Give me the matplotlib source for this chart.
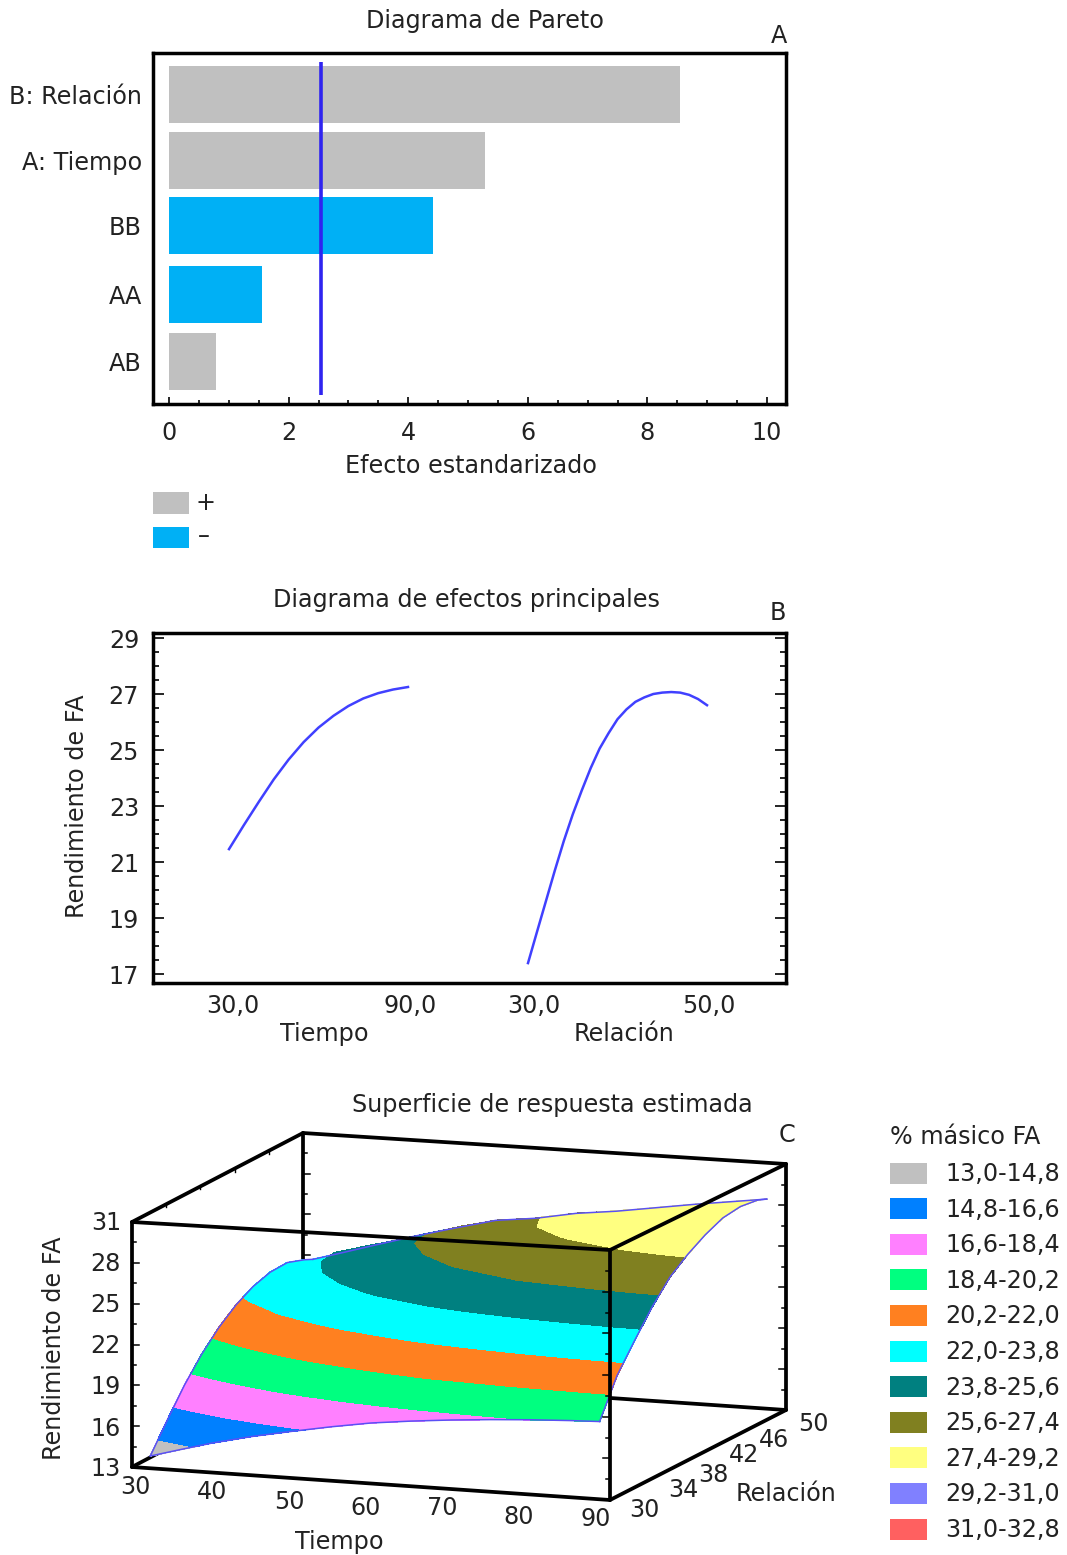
#!/usr/bin/env python3
"""
Pareto chart, main effects plot and estimated response surface for FA yield
"""

import matplotlib
matplotlib.use('Agg')
import matplotlib.pyplot as plt
from matplotlib.patches import Rectangle
import numpy as np

# Pareto data
pareto_labels = ['B: Relación', 'A: Tiempo', 'BB', 'AA', 'AB']
pareto_effects = [8.55, 5.28, 4.41, 1.56, 0.79]
pareto_signs = ['+', '+', '-', '-', '+']
pareto_limit = 2.54

# Main effects data
tiempo_x = [30, 35, 40, 45, 50, 55, 60, 65, 70, 75, 80, 85, 90]
tiempo_y = [21.46, 22.32, 23.15, 23.95, 24.66, 25.28, 25.8, 26.22, 26.57, 26.84, 27.03, 27.16, 27.25]
relacion_x = list(range(30, 51))
relacion_y = [17.39, 18.5, 19.6, 20.7, 21.75, 22.7, 23.55, 24.35, 25.05, 25.6, 26.1,
              26.45, 26.72, 26.88, 27.0, 27.05, 27.07, 27.05, 26.97, 26.82, 26.6]

# Response surface data, rows follow surf_relacion and columns surf_tiempo
surf_tiempo = [32.3, 36, 40, 45, 50, 55, 60, 65, 70, 75, 80, 85, 88.7]
surf_relacion = [30, 32, 34, 36, 38, 40, 42, 44, 46, 48, 49]
surf_z = [
    [13.9, 14.51, 15.15, 15.83, 16.4, 16.93, 17.4, 17.73, 18.0, 18.22, 18.4, 18.53, 18.6],
    [15.9, 16.58, 17.3, 18.06, 18.7, 19.32, 19.8, 20.25, 20.5, 20.84, 21.05, 21.21, 21.3],
    [17.8, 18.45, 19.15, 19.91, 20.55, 21.15, 21.7, 22.09, 22.45, 22.71, 22.95, 23.11, 23.2],
    [19.4, 20.04, 20.75, 21.51, 22.2, 22.82, 23.4, 23.8, 24.15, 24.47, 24.7, 24.9, 25.0],
    [20.7, 21.34, 22.05, 22.82, 23.55, 24.16, 24.75, 25.2, 25.65, 25.92, 26.2, 26.4, 26.5],
    [21.7, 22.31, 23.0, 23.75, 24.5, 25.09, 25.7, 26.14, 26.55, 26.89, 27.2, 27.39, 27.5],
    [22.4, 22.99, 23.65, 24.41, 25.15, 25.77, 26.4, 26.85, 27.3, 27.65, 28.0, 28.18, 28.3],
    [22.8, 23.38, 24.0, 24.81, 25.55, 26.22, 26.85, 27.34, 27.8, 28.2, 28.55, 28.78, 28.9],
    [22.85, 23.44, 24.1, 24.91, 25.65, 26.35, 27.0, 27.51, 27.95, 28.38, 28.7, 28.98, 29.1],
    [22.4, 23.02, 23.7, 24.56, 25.35, 26.07, 26.5, 27.0, 27.4, 27.85, 28.3, 28.7, 28.95],
    [22.1, 22.74, 23.45, 24.31, 25.1, 25.85, 26.2, 26.75, 27.1, 27.55, 28.0, 28.4, 28.7],
]
band_levels = [13.0, 14.8, 16.6, 18.4, 20.2, 22.0, 23.8, 25.6, 27.4, 29.2, 31.0, 32.8]
band_labels = ['13,0-14,8', '14,8-16,6', '16,6-18,4', '18,4-20,2', '20,2-22,0', '22,0-23,8',
               '23,8-25,6', '25,6-27,4', '27,4-29,2', '29,2-31,0', '31,0-32,8']
band_colors = ['#c0c0c0', '#0080ff', '#ff80ff', '#00ff80', '#ff8020', '#00ffff',
               '#008080', '#808020', '#ffff80', '#8080ff', '#ff6060']
box_t_ticks = [30, 40, 50, 60, 70, 80, 90]
box_r_ticks = [30, 34, 38, 42, 46, 50]
box_z_ticks = [13, 16, 19, 22, 25, 28, 31]

W, H = 1067, 1555
FS = 17.2
TXT = '#222222'
LINE = '#2f24f0'
CURVE = '#4040ff'
FRAME_LW = 2.5

plt.rcParams['font.family'] = 'DejaVu Sans'
plt.rcParams['font.size'] = FS
plt.rcParams['text.color'] = TXT
plt.rcParams['xtick.labelcolor'] = TXT
plt.rcParams['ytick.labelcolor'] = TXT


def axes_px(fig, x0, y0, x1, y1, **kw):
    # axes from pixel box, y measured from the top
    return fig.add_axes([x0 / W, 1 - y1 / H, (x1 - x0) / W, (y1 - y0) / H], **kw)


def project(t, r, z):
    # corners of the drawn box, picture pixels
    u = (np.asarray(t, dtype=float) - 30) / 60
    v = (np.asarray(r, dtype=float) - 30) / 20
    w = (np.asarray(z, dtype=float) - 13) / 18
    low = [[(132, 1467), (303, 1377)], [(610, 1500), (786, 1410)]]
    top = [[(132, 1222), (303, 1133)], [(610, 1250), (786, 1164)]]
    out = []
    for k in range(2):
        lo = ((1 - u) * (1 - v) * low[0][0][k] + (1 - u) * v * low[0][1][k]
              + u * (1 - v) * low[1][0][k] + u * v * low[1][1][k])
        hi = ((1 - u) * (1 - v) * top[0][0][k] + (1 - u) * v * top[0][1][k]
              + u * (1 - v) * top[1][0][k] + u * v * top[1][1][k])
        out.append((1 - w) * lo + w * hi)
    return out[0], out[1]


fig = plt.figure(figsize=(W / 100, H / 100), dpi=100)

# Panel A
ax = axes_px(fig, 153, 53, 786, 404)
positions = [0, 0.985, 1.96, 2.99, 3.995]
colors = ['#c0c0c0' if s == '+' else '#00b0f5' for s in pareto_signs]
ax.barh(positions, pareto_effects, height=0.855, color=colors)
ax.vlines(pareto_limit, -0.5, 4.5, color=LINE, lw=2.6)
ax.set_yticks(positions)
ax.set_yticklabels(pareto_labels)
ax.set_xticks(np.arange(0, 11, 2))
ax.set_xticks(np.arange(0, 10.1, 0.5), minor=True)
ax.set_xlim(-16 / 59.8, 617 / 59.8)
ax.set_ylim(4.64, -0.63)
ax.tick_params(axis='y', length=0, pad=8)
ax.tick_params(axis='x', which='major', direction='in', length=5, width=1.2, pad=12)
ax.tick_params(axis='x', which='minor', direction='in', length=3, width=1.2)
for s in ax.spines.values():
    s.set_linewidth(FRAME_LW)

# Panel B
ax = axes_px(fig, 153, 633, 786, 983)
gap = 299 / 179
tiempo_pos = (np.array(tiempo_x) - 30) / 60
relacion_pos = gap + (np.array(relacion_x) - 30) / 20
ax.plot(tiempo_pos, tiempo_y, color=CURVE, lw=1.8)
ax.plot(relacion_pos, relacion_y, color=CURVE, lw=1.8)
ax.set_xticks([0.02, 1.01, gap + 0.03, gap + 1.01])
ax.set_xticklabels(['30,0', '90,0', '30,0', '50,0'])
ax.set_yticks(np.arange(17, 30, 2))
ax.set_yticks(np.arange(17, 29.1, 0.5), minor=True)
ax.set_xlim(-76 / 179, 557 / 179)
ax.set_ylim(17 - 9 / 28, 29 + 5 / 28)
ax.tick_params(axis='x', length=0, pad=8)
ax.tick_params(axis='y', which='major', direction='in', length=8, width=1.2, pad=10, right=True)
ax.tick_params(axis='y', which='minor', direction='in', length=4, width=1.2, right=True)
for s in ax.spines.values():
    s.set_linewidth(FRAME_LW)

# Everything else goes on a page sized axes in picture pixels
page = axes_px(fig, 0, 0, W, H, zorder=5)
page.patch.set_alpha(0)
page.set_xlim(0, W)
page.set_ylim(H, 0)
page.axis('off')


def label(x, y, s, **kw):
    kw.setdefault('ha', 'center')
    kw.setdefault('va', 'center')
    page.text(x, y, s, **kw)


label(485, 21, 'Diagrama de Pareto')
label(779, 36, 'A')
label(471, 466, 'Efecto estandarizado')
page.add_patch(Rectangle((153, 492), 36, 22, color='#c0c0c0', lw=0))
page.add_patch(Rectangle((153, 527), 36, 21, color='#00b0f5', lw=0))
label(205, 503, '+')
label(204, 536, '–')

label(466, 600, 'Diagrama de efectos principales')
label(778, 613, 'B')
label(77, 806, 'Rendimiento de FA', rotation=90)
label(324, 1034, 'Tiempo')
label(624, 1034, 'Relación')

# Panel C
label(552, 1105, 'Superficie de respuesta estimada')
label(787, 1135, 'C')
label(54, 1348, 'Rendimiento de FA', rotation=90)
label(339, 1542, 'Tiempo')
label(786, 1494, 'Relación')


def box_line(a, b, zorder=3, lw=FRAME_LW + 0.2):
    x, y = project([a[0], b[0]], [a[1], b[1]], [a[2], b[2]])
    page.plot(x, y, color='black', lw=lw, zorder=zorder, solid_capstyle='round')


# back of the box sits behind the surface
box_line((30, 50, 13), (30, 50, 31), zorder=1)
box_line((30, 50, 13), (90, 50, 13), zorder=1)
box_line((30, 30, 13), (30, 50, 13), zorder=1)
box_line((30, 50, 31), (90, 50, 31), zorder=1)
box_line((30, 30, 31), (30, 50, 31), zorder=1)

T_grid, R_grid = np.meshgrid(surf_tiempo, surf_relacion)
Z_grid = np.array(surf_z)
X_grid, Y_grid = project(T_grid, R_grid, Z_grid)
bands = page.contourf(X_grid, Y_grid, Z_grid, levels=band_levels, colors=band_colors, zorder=2)
bands.set_edgecolor('face')
bands.set_linewidth(0.4)
for xs, ys in [(X_grid[0], Y_grid[0]), (X_grid[-1], Y_grid[-1]),
               (X_grid[:, 0], Y_grid[:, 0]), (X_grid[:, -1], Y_grid[:, -1])]:
    page.plot(xs, ys, color='#5a50f5', lw=1.1, zorder=2.5)

# front of the box on top of it
box_line((30, 30, 13), (90, 30, 13))
box_line((90, 30, 13), (90, 50, 13))
box_line((30, 30, 13), (30, 30, 31))
box_line((90, 30, 13), (90, 30, 31))
box_line((90, 50, 13), (90, 50, 31))
box_line((30, 30, 31), (90, 30, 31))
box_line((90, 30, 31), (90, 50, 31))

# inward ticks on the verticals
for t, r, dx in [(30, 30, 7), (90, 30, -7), (90, 50, -7), (30, 50, 7)]:
    for z in np.arange(13, 31.1, 1.5):
        x, y = project(t, r, z)
        length = dx if (z - 13) % 3 == 0 else dx * 0.55
        page.plot([x, x + length], [y, y], color='black', lw=1.1,
                  zorder=3 if r == 30 or t == 90 else 1)

# small ticks along the top left edge
for r in np.arange(34, 50, 4):
    x, y = project(30, r, 31)
    page.plot([x, x], [y, y + 3], color='black', lw=1.0, zorder=1)

t_label_xy = [(135, 1487), (212, 1492), (289, 1502), (366, 1508), (442, 1508), (519, 1517), (596, 1519)]
r_label_xy = [(644, 1510), (683, 1490), (713, 1475), (744, 1455), (774, 1440), (813, 1424)]
z_label_y = [1469, 1429, 1387, 1346, 1305, 1264, 1223]
for (x, y), val in zip(t_label_xy, box_t_ticks):
    label(x, y, str(val))
for (x, y), val in zip(r_label_xy, box_r_ticks):
    label(x, y, str(val))
for y, val in zip(z_label_y, box_z_ticks):
    label(121, y, str(val), ha='right')

# Legend of panel C
label(890, 1137, '% másico FA', ha='left')
for i, (name, col) in enumerate(zip(band_labels, band_colors)):
    yc = 1173 + i * 35.6
    page.add_patch(Rectangle((890, yc - 10.5), 37, 21, color=col, lw=0))
    label(945, yc + 1, name, ha='left')

fig.savefig('out.png', dpi=100)
plt.close(fig)
